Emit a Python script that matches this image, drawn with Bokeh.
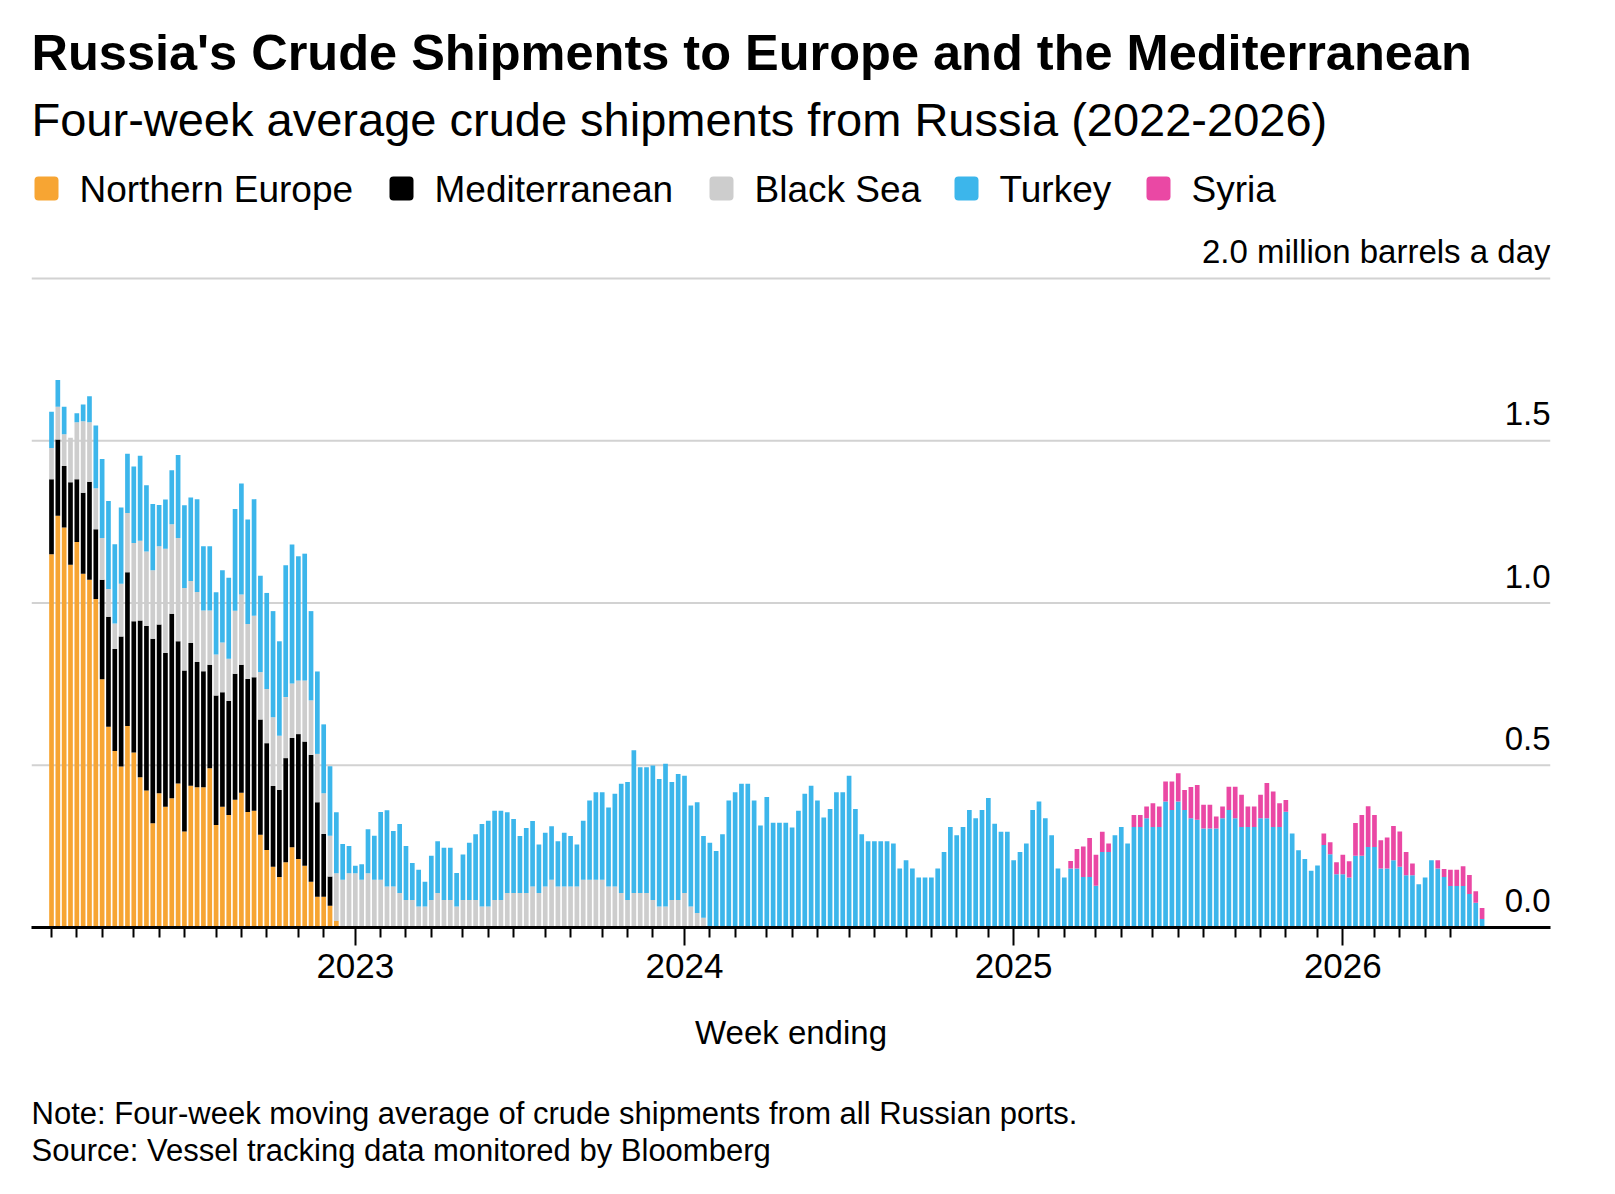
import pandas as pd
from bokeh.plotting import figure
from bokeh.layouts import column
from bokeh.models import Range1d, FixedTicker, ColumnDataSource
from bokeh.models.glyphs import Quad
from bokeh.core.properties import value
from bokeh.embed import file_html
from bokeh.resources import INLINE

# ---------------- data ----------------
first_week = "2022-02-05"   # weekly bars (week ending)
n_weeks = 227

series_keys = ["north_europe", "mediterranean", "black_sea", "turkey", "syria"]
series_names = ["Northern Europe", "Mediterranean", "Black Sea", "Turkey", "Syria"]
colors = ["#F7A533", "#000000", "#CDCDCD", "#3CB6EB", "#EA48A4"]

north_europe = [
    1.150, 1.269, 1.233, 1.118, 1.188, 1.090, 1.072, 1.012, 0.765, 0.619,
    0.544, 0.496, 0.621, 0.539, 0.463, 0.422, 0.321, 0.414, 0.372, 0.398,
    0.444, 0.296, 0.437, 0.432, 0.432, 0.491, 0.316, 0.372, 0.347, 0.394,
    0.415, 0.356, 0.360, 0.286, 0.239, 0.187, 0.156, 0.201, 0.247, 0.211,
    0.190, 0.141, 0.095, 0.095, 0.067, 0.020,
] + [0.0] * 181

mediterranean = [
    0.231, 0.235, 0.189, 0.254, 0.193, 0.250, 0.302, 0.215, 0.307, 0.339,
    0.314, 0.401, 0.474, 0.405, 0.483, 0.507, 0.569, 0.520, 0.474, 0.569,
    0.438, 0.496, 0.440, 0.386, 0.358, 0.319, 0.399, 0.353, 0.351, 0.388,
    0.395, 0.410, 0.411, 0.355, 0.329, 0.249, 0.268, 0.321, 0.337, 0.385,
    0.383, 0.391, 0.291, 0.193, 0.090,
] + [0.0] * 182

black_sea = [
    0.097, 0.101, 0.098, 0.137, 0.176, 0.220, 0.183, 0.127, 0.128, 0.085,
    0.079, 0.162, 0.182, 0.241, 0.246, 0.230, 0.211, 0.241, 0.321, 0.276,
    0.318, 0.254, 0.191, 0.216, 0.187, 0.167, 0.126, 0.153, 0.130, 0.194,
    0.216, 0.169, 0.190, 0.146, 0.167, 0.212, 0.167, 0.188, 0.168, 0.165,
    0.188, 0.168, 0.149, 0.126, 0.126, 0.147, 0.147, 0.167, 0.167, 0.147,
    0.167, 0.147, 0.147, 0.126, 0.126, 0.106, 0.085, 0.085, 0.065, 0.065,
    0.085, 0.106, 0.085, 0.085, 0.065, 0.085, 0.085, 0.085, 0.065, 0.065,
    0.085, 0.085, 0.106, 0.106, 0.106, 0.106, 0.126, 0.106, 0.126, 0.147,
    0.126, 0.126, 0.126, 0.126, 0.147, 0.147, 0.147, 0.147, 0.126, 0.126,
    0.106, 0.085, 0.106, 0.106, 0.106, 0.085, 0.065, 0.065, 0.085, 0.085,
    0.106, 0.065, 0.045, 0.030,
] + [0.0] * 123

turkey = [
    0.111, 0.082, 0.085, 0.000, 0.028, 0.052, 0.080, 0.193, 0.244, 0.271,
    0.244, 0.235, 0.183, 0.236, 0.262, 0.204, 0.204, 0.127, 0.152, 0.166,
    0.256, 0.255, 0.257, 0.286, 0.198, 0.198, 0.192, 0.223, 0.250, 0.314,
    0.342, 0.322, 0.359, 0.297, 0.296, 0.327, 0.291, 0.406, 0.428, 0.383,
    0.391, 0.275, 0.254, 0.212, 0.214, 0.188, 0.110, 0.084, 0.023, 0.048,
    0.136, 0.136, 0.209, 0.235, 0.171, 0.213, 0.166, 0.114, 0.113, 0.076,
    0.136, 0.160, 0.161, 0.161, 0.103, 0.140, 0.176, 0.202, 0.254, 0.264,
    0.275, 0.275, 0.249, 0.228, 0.176, 0.201, 0.202, 0.150, 0.166, 0.165,
    0.140, 0.166, 0.156, 0.130, 0.182, 0.244, 0.270, 0.270, 0.244, 0.286,
    0.337, 0.363, 0.440, 0.388, 0.388, 0.414, 0.393, 0.440, 0.363, 0.388,
    0.362, 0.311, 0.341, 0.252, 0.261, 0.236, 0.287, 0.391, 0.417, 0.443,
    0.443, 0.391, 0.314, 0.402, 0.323, 0.323, 0.323, 0.308, 0.360, 0.412,
    0.437, 0.391, 0.339, 0.365, 0.417, 0.417, 0.468, 0.365, 0.287, 0.266,
    0.266, 0.266, 0.266, 0.259, 0.182, 0.207, 0.182, 0.154, 0.154, 0.154,
    0.182, 0.233, 0.310, 0.284, 0.310, 0.362, 0.337, 0.362, 0.399, 0.320,
    0.295, 0.295, 0.207, 0.233, 0.259, 0.362, 0.388, 0.337, 0.284, 0.182,
    0.154, 0.182, 0.182, 0.156, 0.156, 0.129, 0.233, 0.233, 0.284, 0.310,
    0.259, 0.310, 0.310, 0.337, 0.310, 0.310, 0.388, 0.362, 0.388, 0.362,
    0.337, 0.332, 0.305, 0.305, 0.305, 0.337, 0.362, 0.337, 0.310, 0.310,
    0.310, 0.337, 0.337, 0.310, 0.310, 0.357, 0.290, 0.238, 0.211, 0.175,
    0.191, 0.254, 0.226, 0.164, 0.164, 0.154, 0.221, 0.221, 0.248, 0.248,
    0.182, 0.182, 0.207, 0.187, 0.161, 0.161, 0.133, 0.154, 0.207, 0.182,
    0.156, 0.128, 0.128, 0.128, 0.103, 0.076, 0.026,
]

syria = [0.0] * 161 + [
    0.023, 0.060, 0.094, 0.120, 0.095, 0.062, 0.026, 0.000, 0.000, 0.000,
    0.037, 0.037, 0.036, 0.073, 0.063, 0.062, 0.088, 0.087, 0.062, 0.096,
    0.107, 0.073, 0.073, 0.037, 0.036, 0.072, 0.097, 0.099, 0.063, 0.063,
    0.072, 0.108, 0.109, 0.073, 0.036, 0.000, 0.000, 0.000, 0.000, 0.000,
    0.036, 0.037, 0.037, 0.060, 0.050, 0.101, 0.126, 0.126, 0.099, 0.087,
    0.095, 0.106, 0.109, 0.072, 0.036, 0.000, 0.000, 0.000, 0.025, 0.024,
    0.050, 0.050, 0.061, 0.059, 0.036, 0.034,
]

y_ticks = [0.0, 0.5, 1.0, 1.5, 2.0]
y_tick_labels = ["0.0", "0.5", "1.0", "1.5", "2.0 million barrels a day"]

title_text = "Russia's Crude Shipments to Europe and the Mediterranean"
subtitle_text = "Four-week average crude shipments from Russia (2022-2026)"
x_axis_title = "Week ending"
note_lines = ["Note: Four-week moving average of crude shipments from all Russian ports.",
              "Source: Vessel tracking data monitored by Bloomberg"]

# ---------------- week positions and ticks ----------------
weeks = pd.date_range(first_week, periods=n_weeks, freq="7D")
xs = list(range(n_weeks))
month_first = [i for i in range(n_weeks - 1)
               if i == 0 or weeks[i].month != weeks[i - 1].month]
year_ticks = [i for i in month_first if weeks[i].month == 1]
minor_ticks = [i for i in month_first if i not in year_ticks]
year_labels = {i: str(weeks[i].year) for i in year_ticks}

# ---------------- geometry (canvas pixels) ----------------
FONT = "Liberation Sans"
W = 1599
H_MAIN, H_NOTE = 1074, 104
FR_L, FR_R = 31, 1550          # frame left/right
FR_B = 927                     # baseline (value 0)
PPU = 6.33                     # px per week
PPV = 324.5                    # px per million b/d
X0 = -(51 - FR_L) / PPU
X1 = X0 + (FR_R - FR_L) / PPU
Y1 = FR_B / PPV


def xd(px):
    return X0 + (px - FR_L) / PPU


def yd(py):
    return (FR_B - py) / PPV


p = figure(width=W, height=H_MAIN, output_backend="svg", toolbar_location=None,
           x_range=Range1d(X0, X1), y_range=Range1d(0, Y1),
           y_axis_location=None,
           min_border_left=FR_L, min_border_right=W - FR_R,
           min_border_top=0, min_border_bottom=H_MAIN - FR_B)
p.outline_line_color = None
p.background_fill_color = "white"
p.border_fill_color = "white"
p.xgrid.visible = False
p.ygrid.visible = False

# grid lines
grid_vals = [v for v in y_ticks if v > 0]
p.segment(x0=[X0] * len(grid_vals), x1=[X1] * len(grid_vals), y0=grid_vals, y1=grid_vals,
          line_color="#D2D2D2", line_width=2)

# stacked bars
src = ColumnDataSource(dict(x=xs, north_europe=north_europe, mediterranean=mediterranean,
                            black_sea=black_sea, turkey=turkey, syria=syria))
p.vbar_stack(series_keys, x="x", width=0.74, source=src,
             fill_color=colors, line_color=None)

# y tick labels (right aligned, above grid lines)
p.text(x=[X1] * len(y_ticks), y=y_ticks, text=y_tick_labels,
       text_align="right", text_baseline="alphabetic", y_offset=-27,
       text_font=value(FONT), text_font_size="33px", text_color="#000000")

# x axis
xa = p.xaxis[0]
xa.ticker = FixedTicker(ticks=year_ticks, minor_ticks=minor_ticks)
xa.major_label_overrides = year_labels
xa.axis_line_color = "#000000"
xa.axis_line_width = 3
xa.major_tick_line_color = "#000000"
xa.major_tick_line_width = 2
xa.major_tick_in = 0
xa.major_tick_out = 18
xa.minor_tick_line_color = "#000000"
xa.minor_tick_line_width = 2
xa.minor_tick_in = 0
xa.minor_tick_out = 10
xa.major_label_text_font = FONT
xa.major_label_text_font_size = "35px"
xa.major_label_text_color = "#000000"
xa.major_label_standoff = 8
xa.axis_label = x_axis_title
xa.axis_label_text_font = FONT
xa.axis_label_text_font_size = "33px"
xa.axis_label_text_font_style = "normal"
xa.axis_label_text_color = "#000000"
xa.axis_label_standoff = 33

# header texts
p.text(x=[xd(31)], y=[yd(52)], text=[title_text], text_baseline="alphabetic",
       text_font=value(FONT), text_font_style="bold", text_font_size="50.5px",
       text_color="#000000")
p.text(x=[xd(31)], y=[yd(119)], text=[subtitle_text], text_baseline="alphabetic",
       text_font=value(FONT), text_font_size="47px", text_color="#000000")

# legend (swatches + labels)
sw_left = [34, 389, 709, 954, 1146]
sw = 24
quad_kw = {"border_radius": 4} if "border_radius" in Quad.properties() else {}
p.quad(left=[xd(v) for v in sw_left], right=[xd(v + sw) for v in sw_left],
       top=[yd(176)] * 5, bottom=[yd(176 + sw)] * 5,
       fill_color=colors, line_color=None, **quad_kw)
p.text(x=[xd(v + 45) for v in sw_left], y=[yd(189)] * 5, text=series_names,
       text_baseline="alphabetic", text_font=value(FONT), text_font_size="37px",
       text_color="#000000")

# notes panel below the chart (its frame is aligned with the chart frame)
q = figure(width=W, height=H_NOTE, output_backend="svg", toolbar_location=None,
           x_range=Range1d(FR_L, FR_R), y_range=Range1d(H_NOTE, 0),
           x_axis_location=None, y_axis_location=None,
           min_border_left=FR_L, min_border_right=W - FR_R,
           min_border_top=0, min_border_bottom=0)
q.outline_line_color = None
q.xgrid.visible = False
q.ygrid.visible = False
q.text(x=[31, 31], y=[1113 - H_MAIN, 1150 - H_MAIN], text=note_lines,
       text_baseline="alphabetic", text_font=value(FONT), text_font_size="31px",
       text_color="#000000")

layout = column(p, q, spacing=0)
open("out.html", "w").write(file_html(layout, INLINE))
